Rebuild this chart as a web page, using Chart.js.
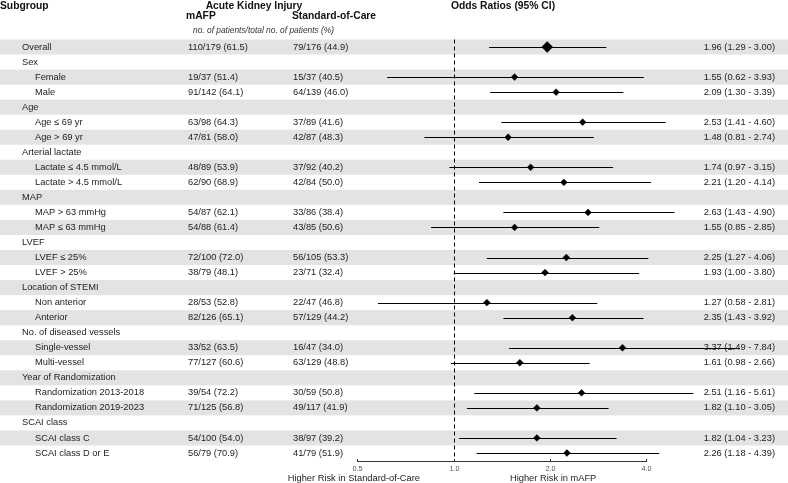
<!DOCTYPE html>
<html lang="en">
<head>
<meta charset="UTF-8">
<title>Forest plot - Acute Kidney Injury</title>
<script src="https://cdn.jsdelivr.net/npm/chart.js"></script>
<style>
  body { margin: 0; background: #fff; }
  .wrap { position: relative; width: 788px; height: 483px; }
</style>
</head>
<body>
<div class="wrap"><canvas id="forest"></canvas></div>
<script>
// rows top to bottom; null = group header row
const subgroups = ['Overall', 'Sex', 'Female', 'Male', 'Age', 'Age \u2264 69 yr', 'Age > 69 yr',
  'Arterial lactate', 'Lactate \u2264 4.5 mmol/L', 'Lactate > 4.5 mmol/L', 'MAP', 'MAP > 63 mmHg', 'MAP \u2264 63 mmHg',
  'LVEF', 'LVEF \u2264 25%', 'LVEF > 25%', 'Location of STEMI', 'Non anterior', 'Anterior',
  'No. of diseased vessels', 'Single-vessel', 'Multi-vessel', 'Year of Randomization',
  'Randomization 2013-2018', 'Randomization 2019-2023', 'SCAI class', 'SCAI class C', 'SCAI class D or E'];
const mafp = ['110/179 (61.5)', null, '19/37 (51.4)', '91/142 (64.1)', null, '63/98 (64.3)', '47/81 (58.0)',
  null, '48/89 (53.9)', '62/90 (68.9)', null, '54/87 (62.1)', '54/88 (61.4)',
  null, '72/100 (72.0)', '38/79 (48.1)', null, '28/53 (52.8)', '82/126 (65.1)',
  null, '33/52 (63.5)', '77/127 (60.6)', null, '39/54 (72.2)', '71/125 (56.8)', null, '54/100 (54.0)', '56/79 (70.9)'];
const soc = ['79/176 (44.9)', null, '15/37 (40.5)', '64/139 (46.0)', null, '37/89 (41.6)', '42/87 (48.3)',
  null, '37/92 (40.2)', '42/84 (50.0)', null, '33/86 (38.4)', '43/85 (50.6)',
  null, '56/105 (53.3)', '23/71 (32.4)', null, '22/47 (46.8)', '57/129 (44.2)',
  null, '16/47 (34.0)', '63/129 (48.8)', null, '30/59 (50.8)', '49/117 (41.9)', null, '38/97 (39.2)', '41/79 (51.9)'];
const orEst = [1.96, null, 1.55, 2.09, null, 2.53, 1.48, null, 1.74, 2.21, null, 2.63, 1.55,
  null, 2.25, 1.93, null, 1.27, 2.35, null, 3.37, 1.61, null, 2.51, 1.82, null, 1.82, 2.26];
const ciLow = [1.29, null, 0.62, 1.30, null, 1.41, 0.81, null, 0.97, 1.20, null, 1.43, 0.85,
  null, 1.27, 1.00, null, 0.58, 1.43, null, 1.49, 0.98, null, 1.16, 1.10, null, 1.04, 1.18];
const ciHigh = [3.00, null, 3.93, 3.39, null, 4.60, 2.74, null, 3.15, 4.14, null, 4.90, 2.85,
  null, 4.06, 3.80, null, 2.81, 3.92, null, 7.84, 2.66, null, 5.61, 3.05, null, 3.23, 4.39];
const xTicks = [0.5, 1.0, 2.0, 4.0];

const FONT = '"Liberation Sans", Arial, sans-serif';
const fmt = v => v.toFixed(2);

const points = [];
orEst.forEach((v, i) => { if (v != null) points.push({ x: v, y: i }); });

const forestPlugin = {
  id: 'forest',
  beforeDatasetsDraw(chart) {
    const { ctx, chartArea, scales: { x, y } } = chart;
    ctx.save();
    // shaded bands on every other row
    ctx.fillStyle = '#e3e3e3';
    subgroups.forEach((s, i) => {
      if (i % 2) return;
      const a = y.getPixelForValue(i - 0.5), b = y.getPixelForValue(i + 0.5);
      ctx.fillRect(0, Math.min(a, b), chart.width, Math.abs(b - a));
    });
    // reference line at OR = 1
    const x1 = Math.round(x.getPixelForValue(1)) + 0.5;
    ctx.strokeStyle = '#000';
    ctx.lineWidth = 1;
    ctx.setLineDash([4, 3]);
    ctx.beginPath();
    ctx.moveTo(x1, chartArea.top);
    ctx.lineTo(x1, chartArea.bottom);
    ctx.stroke();
    ctx.setLineDash([]);
    // confidence intervals
    ciLow.forEach((lo, i) => {
      if (lo == null) return;
      const py = Math.round(y.getPixelForValue(i)) + 0.5;
      ctx.beginPath();
      ctx.moveTo(x.getPixelForValue(lo), py);
      ctx.lineTo(x.getPixelForValue(ciHigh[i]), py);
      ctx.stroke();
    });
    ctx.restore();
  },
  afterDatasetsDraw(chart) {
    const { ctx, chartArea, scales: { x, y } } = chart;
    ctx.save();
    ctx.textBaseline = 'middle';

    // column headers
    ctx.fillStyle = '#111';
    ctx.font = 'bold 10.3px ' + FONT;
    ctx.textAlign = 'left';
    ctx.fillText('Subgroup', 0, 6);
    ctx.textAlign = 'center';
    ctx.fillText('Acute Kidney Injury', 254, 6);
    ctx.fillText('Odds Ratios (95% CI)', 503, 6);
    ctx.textAlign = 'left';
    ctx.fillText('mAFP', 186, 16.5);
    ctx.fillText('Standard-of-Care', 292, 16.5);
    ctx.font = 'italic 8.4px ' + FONT;
    ctx.fillStyle = '#333';
    ctx.fillText('no. of patients/total no. of patients (%)', 193, 31);

    // table rows
    ctx.font = '9.3px ' + FONT;
    ctx.fillStyle = '#222';
    subgroups.forEach((s, i) => {
      const py = y.getPixelForValue(i);
      const indent = orEst[i] != null && i > 0;
      ctx.textAlign = 'left';
      ctx.fillText(s, indent ? 35 : 22, py);
      if (mafp[i]) ctx.fillText(mafp[i], 188, py);
      if (soc[i]) ctx.fillText(soc[i], 293, py);
      if (orEst[i] != null) {
        ctx.textAlign = 'right';
        ctx.fillText(fmt(orEst[i]) + ' (' + fmt(ciLow[i]) + ' - ' + fmt(ciHigh[i]) + ')', 775, py);
      }
    });

    // x axis
    const ay = Math.round(chartArea.bottom) + 0.5;
    ctx.strokeStyle = '#333';
    ctx.lineWidth = 1;
    ctx.beginPath();
    ctx.moveTo(x.getPixelForValue(xTicks[0]), ay);
    ctx.lineTo(x.getPixelForValue(xTicks[xTicks.length - 1]), ay);
    ctx.stroke();
    ctx.font = '7.3px ' + FONT;
    ctx.fillStyle = '#555';
    ctx.textAlign = 'center';
    xTicks.forEach(t => {
      const px = Math.round(x.getPixelForValue(t)) + 0.5;
      ctx.beginPath();
      ctx.moveTo(px, ay - 2.5);
      ctx.lineTo(px, ay + 0.5);
      ctx.stroke();
      ctx.fillText(t.toFixed(1), px, ay + 7);
    });
    ctx.font = '9.3px ' + FONT;
    ctx.fillStyle = '#222';
    ctx.textAlign = 'right';
    ctx.fillText('Higher Risk in Standard-of-Care', 420, ay + 17);
    ctx.textAlign = 'left';
    ctx.fillText('Higher Risk in mAFP', 510, ay + 17);
    ctx.restore();
  }
};

new Chart(document.getElementById('forest'), {
  type: 'scatter',
  data: {
    datasets: [{
      data: points,
      pointStyle: 'rectRot',
      pointRadius: points.map(p => p.y === 0 ? 5.5 : 3.4),
      backgroundColor: '#000',
      borderColor: '#000',
      borderWidth: 0.5
    }]
  },
  options: {
    responsive: true,
    maintainAspectRatio: false,
    animation: false,
    events: [],
    layout: { autoPadding: false, padding: { top: 39.5, bottom: 22.5, left: 0, right: 0 } },
    plugins: { legend: { display: false }, tooltip: { enabled: false } },
    scales: {
      x: { type: 'logarithmic', min: 0.0382, max: 11.09, display: false },
      y: { type: 'linear', reverse: true, min: -0.5, max: subgroups.length - 0.5, display: false }
    }
  },
  plugins: [forestPlugin]
});
</script>
</body>
</html>
